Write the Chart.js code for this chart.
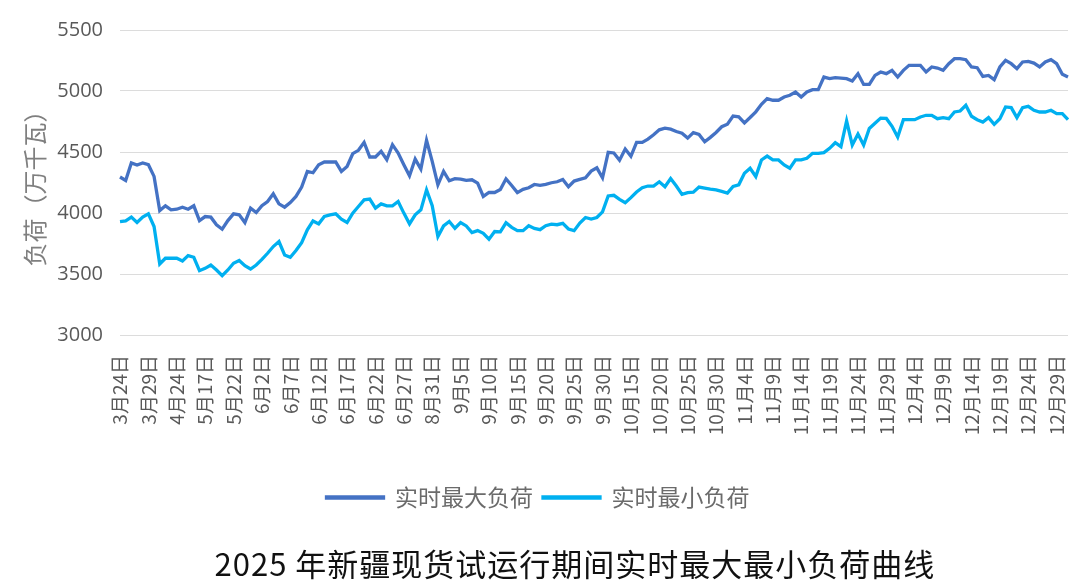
<!DOCTYPE html>
<html>
<head>
<meta charset="utf-8">
<script src="https://cdn.jsdelivr.net/npm/chart.js@4.4.1/dist/chart.umd.min.js"></script>
<style>
  body { margin: 0; background: #fff; }
  #wrap { position: relative; width: 1080px; height: 581px; overflow: hidden; }
  #chartTitle {
    position: absolute; left: 35px; top: 544px; width: 1080px;
    text-align: center; font: 31px/38px "Noto Sans CJK SC", sans-serif; color: #111;
    letter-spacing: 1px;
  }
</style>
</head>
<body>
<div id="wrap">
  <canvas id="loadChart" width="1080" height="581"></canvas>
  <div id="chartTitle">2025 年新疆现货试运行期间实时最大最小负荷曲线</div>
</div>
<script>
// trial-run periods: [start date, number of days]
const periods = [['3-24', 7], ['4-21', 8], ['5-17', 10], ['6-2', 30], ['8-31', 31], ['10-11', 82]];

const yTicks = [3000, 3500, 4000, 4500, 5000, 5500];

// 实时最大负荷 (万千瓦)
const maxLoad = [
  4295, 4267, 4410, 4393, 4410, 4396, 4300, 4020, 4059, 4026,
  4031, 4048, 4031, 4059, 3938, 3971, 3966, 3903, 3867, 3938,
  3993, 3985, 3922, 4040, 4004, 4059, 4094, 4157, 4075, 4048,
  4086, 4136, 4212, 4341, 4330, 4396, 4418, 4418, 4418, 4341,
  4382, 4486, 4514, 4579, 4459, 4459, 4505, 4437, 4560, 4492,
  4396, 4305, 4442, 4360, 4596, 4423, 4231, 4341, 4264, 4281,
  4278, 4267, 4272, 4245, 4136, 4168, 4168, 4192, 4280, 4226,
  4167, 4194, 4207, 4234, 4226, 4234, 4248, 4256, 4275, 4215,
  4262, 4275, 4289, 4343, 4370, 4289, 4497, 4492, 4432, 4524,
  4465, 4579, 4579, 4606, 4641, 4682, 4695, 4687, 4668, 4654,
  4614, 4659, 4644, 4584, 4620, 4660, 4707, 4728, 4794, 4788,
  4739, 4783, 4829, 4891, 4938, 4924, 4924, 4951, 4965, 4992,
  4951, 4992, 5011, 5011, 5114, 5101, 5109, 5106, 5101, 5082,
  5141, 5054, 5054, 5128, 5156, 5142, 5169, 5115, 5169, 5210,
  5210, 5210, 5156, 5197, 5188, 5169, 5224, 5265, 5265, 5257,
  5197, 5191, 5120, 5128, 5093, 5197, 5251, 5224, 5183, 5238,
  5243, 5229, 5197, 5238, 5257, 5224, 5137, 5115
];

// 实时最小负荷 (万千瓦)
const minLoad = [
  3930, 3936, 3966, 3922, 3966, 3993, 3889, 3582, 3629, 3629,
  3629, 3607, 3651, 3637, 3527, 3546, 3574, 3533, 3486, 3533,
  3588, 3610, 3568, 3541, 3574, 3620, 3670, 3725, 3766, 3656,
  3637, 3692, 3757, 3862, 3935, 3911, 3971, 3985, 3993, 3949,
  3922, 3999, 4053, 4108, 4114, 4040, 4075, 4059, 4059, 4094,
  3999, 3911, 3985, 4026, 4190, 4059, 3807, 3894, 3930, 3875,
  3922, 3894, 3840, 3856, 3834, 3785, 3848, 3845, 3920, 3882,
  3855, 3855, 3896, 3874, 3863, 3896, 3909, 3904, 3915, 3869,
  3855, 3917, 3963, 3950, 3963, 4009, 4140, 4145, 4112, 4085,
  4126, 4172, 4207, 4221, 4221, 4256, 4215, 4283, 4221, 4153,
  4167, 4170, 4212, 4204, 4196, 4190, 4177, 4163, 4218, 4231,
  4326, 4367, 4299, 4435, 4467, 4435, 4435, 4394, 4367, 4435,
  4435, 4448, 4489, 4489, 4495, 4530, 4576, 4544, 4755, 4557,
  4647, 4557, 4693, 4735, 4778, 4775, 4711, 4623, 4765, 4765,
  4765, 4787, 4801, 4801, 4773, 4782, 4773, 4828, 4836, 4883,
  4793, 4765, 4746, 4782, 4727, 4773, 4869, 4864, 4782, 4864,
  4874, 4842, 4828, 4828, 4842, 4814, 4814, 4765
];

// build day labels like 3月24日
const dates = [];
periods.forEach(([start, days]) => {
  const [m, d] = start.split('-').map(Number);
  for (let k = 0; k < days; k++) {
    const dt = new Date(2025, m - 1, d + k);
    dates.push((dt.getMonth() + 1) + '月' + dt.getDate() + '日');
  }
});

const ctx = document.getElementById('loadChart').getContext('2d');
new Chart(ctx, {
  type: 'line',
  data: {
    labels: dates,
    datasets: [{
      label: '实时最大负荷',
      data: maxLoad,
      borderColor: '#4472C4',
      backgroundColor: '#4472C4',
      borderWidth: 3.3,
      pointRadius: 0,
      tension: 0
    }, {
      label: '实时最小负荷',
      data: minLoad,
      borderColor: '#00B0F0',
      backgroundColor: '#00B0F0',
      borderWidth: 3.3,
      pointRadius: 0,
      tension: 0
    }]
  },
  options: {
    responsive: false,
    animation: false,
    layout: { padding: { top: 30, left: 8, right: 12, bottom: 62 } },
    plugins: {
      legend: {
        position: 'bottom',
        labels: {
          boxWidth: 57,
          boxHeight: 1,
          padding: 10,
          color: '#6b6b6b',
          font: { family: '"Noto Sans CJK SC"', size: 23 }
        }
      },
      tooltip: { enabled: false }
    },
    scales: {
      x: {
        offset: false,
        grid: { display: false },
        border: { display: false },
        ticks: {
          autoSkip: false,
          maxRotation: 90,
          minRotation: 90,
          padding: 12,
          color: '#595959',
          font: { family: '"Noto Sans CJK SC"', size: 19 },
          callback: function (value, index) {
            return index % 5 === 0 ? this.getLabelForValue(value) : '';
          }
        },
        afterFit: (scale) => {
          scale.height = 141;
          scale.paddingLeft = 0;
          scale.paddingRight = 0;
        }
      },
      y: {
        min: yTicks[0],
        max: yTicks[yTicks.length - 1],
        grid: { color: '#dcdcdc', drawTicks: false },
        border: { display: false },
        ticks: {
          stepSize: 500,
          padding: 17,
          color: '#595959',
          font: { family: '"Open Sans"', size: 20 },
          callback: (value) => String(value)
        },
        title: {
          display: true,
          text: '负荷（万千瓦）',
          color: '#7f7f7f',
          padding: { top: 12, bottom: 0 },
          font: { family: '"Noto Sans CJK SC"', size: 24 }
        },
        afterFit: (scale) => { scale.width = 112; }
      }
    }
  }
});
</script>
</body>
</html>
